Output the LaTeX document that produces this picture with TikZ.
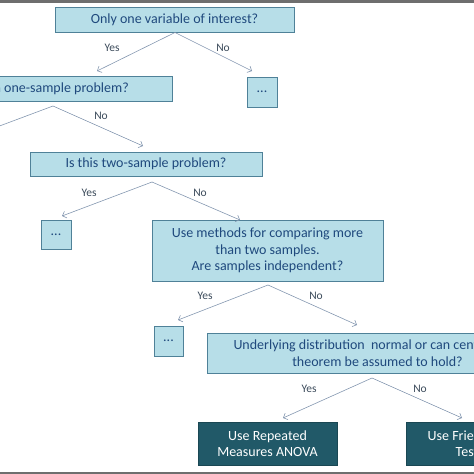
\documentclass[tikz,border=0pt]{standalone}
\usepackage{fontspec}
\setmainfont{Carlito}
\usepackage{tikz}
\usetikzlibrary{arrows.meta}
\definecolor{boxfill}{HTML}{B7DEE8}
\definecolor{boxline}{HTML}{4F8198}
\definecolor{boxtext}{HTML}{1F497D}
\definecolor{darkfill}{HTML}{215968}
\definecolor{arrline}{HTML}{8497B0}
\definecolor{lbltext}{HTML}{3B4A5A}
\definecolor{bargray}{HTML}{6E6E6E}

\begin{document}
\begin{tikzpicture}[x=1pt, y=-1pt,
	qbox/.style={draw=boxline, fill=boxfill, text=boxtext, line width=0.8pt, inner sep=0pt, align=center, font=\fontsize{14}{16.5}\selectfont},
	abox/.style={draw=darkfill!80!black, fill=darkfill, text=white, line width=0.8pt, inner sep=0pt, align=center, font=\fontsize{14}{16.5}\selectfont},
	arr/.style={draw=arrline, line width=0.6pt, -{Straight Barb[length=3.5pt,width=7pt]}},
	lbl/.style={text=lbltext, inner sep=0pt, font=\fontsize{11.5}{13}\selectfont}]
	\useasboundingbox (0,0) rectangle (474,474);
	\fill[bargray] (0,0) rectangle (474,2.5);
	\fill[bargray] (0,471.5) rectangle (474,474);

	\node[qbox, minimum width=239pt, minimum height=25pt] (q1) at (174.5,19.5) {Only one variable of interest?};
	\node[qbox, minimum width=257pt, minimum height=25pt] (q2) at (43.5,88.5) {Is this a one-sample problem?};
	\node[qbox, minimum width=30pt, minimum height=30pt] (d1) at (262,92) {...};
	\node[qbox, minimum width=232pt, minimum height=24pt] (q3) at (146,164) {Is this two-sample problem?};
	\node[qbox, minimum width=30pt, minimum height=29pt] (d2) at (56,234.5) {...};
	\node[qbox, minimum width=231pt, minimum height=61pt] (q4) at (267.5,250.5) {Use methods for comparing more\\than two samples.\\Are samples independent?};
	\node[qbox, minimum width=29pt, minimum height=30pt] (d3) at (168.5,341) {...};
	\node[qbox, minimum width=341pt, minimum height=40pt] (q5) at (377.5,353) {Underlying distribution\ \ normal or can central limit\\theorem be assumed to hold?};
	\node[abox, minimum width=139pt, minimum height=43pt] (r1) at (267.5,443.5) {Use Repeated\\Measures ANOVA};
	\node[abox, minimum width=122pt, minimum height=43pt] (r2) at (467,443.5) {Use Friedman\\Test};

	\coordinate (t1) at (175,32.5);
	\coordinate (y1) at (97,71);
	\coordinate (n1) at (252,71);
	\coordinate (t2) at (53,106);
	\coordinate (y2) at (-54,146);
	\coordinate (n2) at (143,146);
	\coordinate (t3) at (152,182);
	\coordinate (y3) at (62,216);
	\coordinate (n3) at (240,220);
	\coordinate (t4) at (268,285);
	\coordinate (y4) at (178,320);
	\coordinate (n4) at (357,325);
	\coordinate (t5) at (372,378);
	\coordinate (y5) at (283,418);
	\coordinate (n5) at (462,418);

	\draw[arr] (t1) -- (y1);
	\draw[arr] (t1) -- (n1);
	\draw[arr] (t2) -- (y2);
	\draw[arr] (t2) -- (n2);
	\draw[arr] (t3) -- (y3);
	\draw[arr] (t3) -- (n3);
	\draw[arr] (t4) -- (y4);
	\draw[arr] (t4) -- (n4);
	\draw[arr] (t5) -- (y5);
	\draw[arr] (t5) -- (n5);

	\node[lbl] (ly1) at (112,48) {Yes};
	\node[lbl] (ln1) at (223,48) {No};
	\node[lbl] (ln2) at (101,116) {No};
	\node[lbl] (ly3) at (89,193) {Yes};
	\node[lbl] (ln3) at (200,193) {No};
	\node[lbl] (ly4) at (205,296) {Yes};
	\node[lbl] (ln4) at (316,296) {No};
	\node[lbl] (ly5) at (309,389) {Yes};
	\node[lbl] (ln5) at (420,389) {No};
\end{tikzpicture}
\end{document}
